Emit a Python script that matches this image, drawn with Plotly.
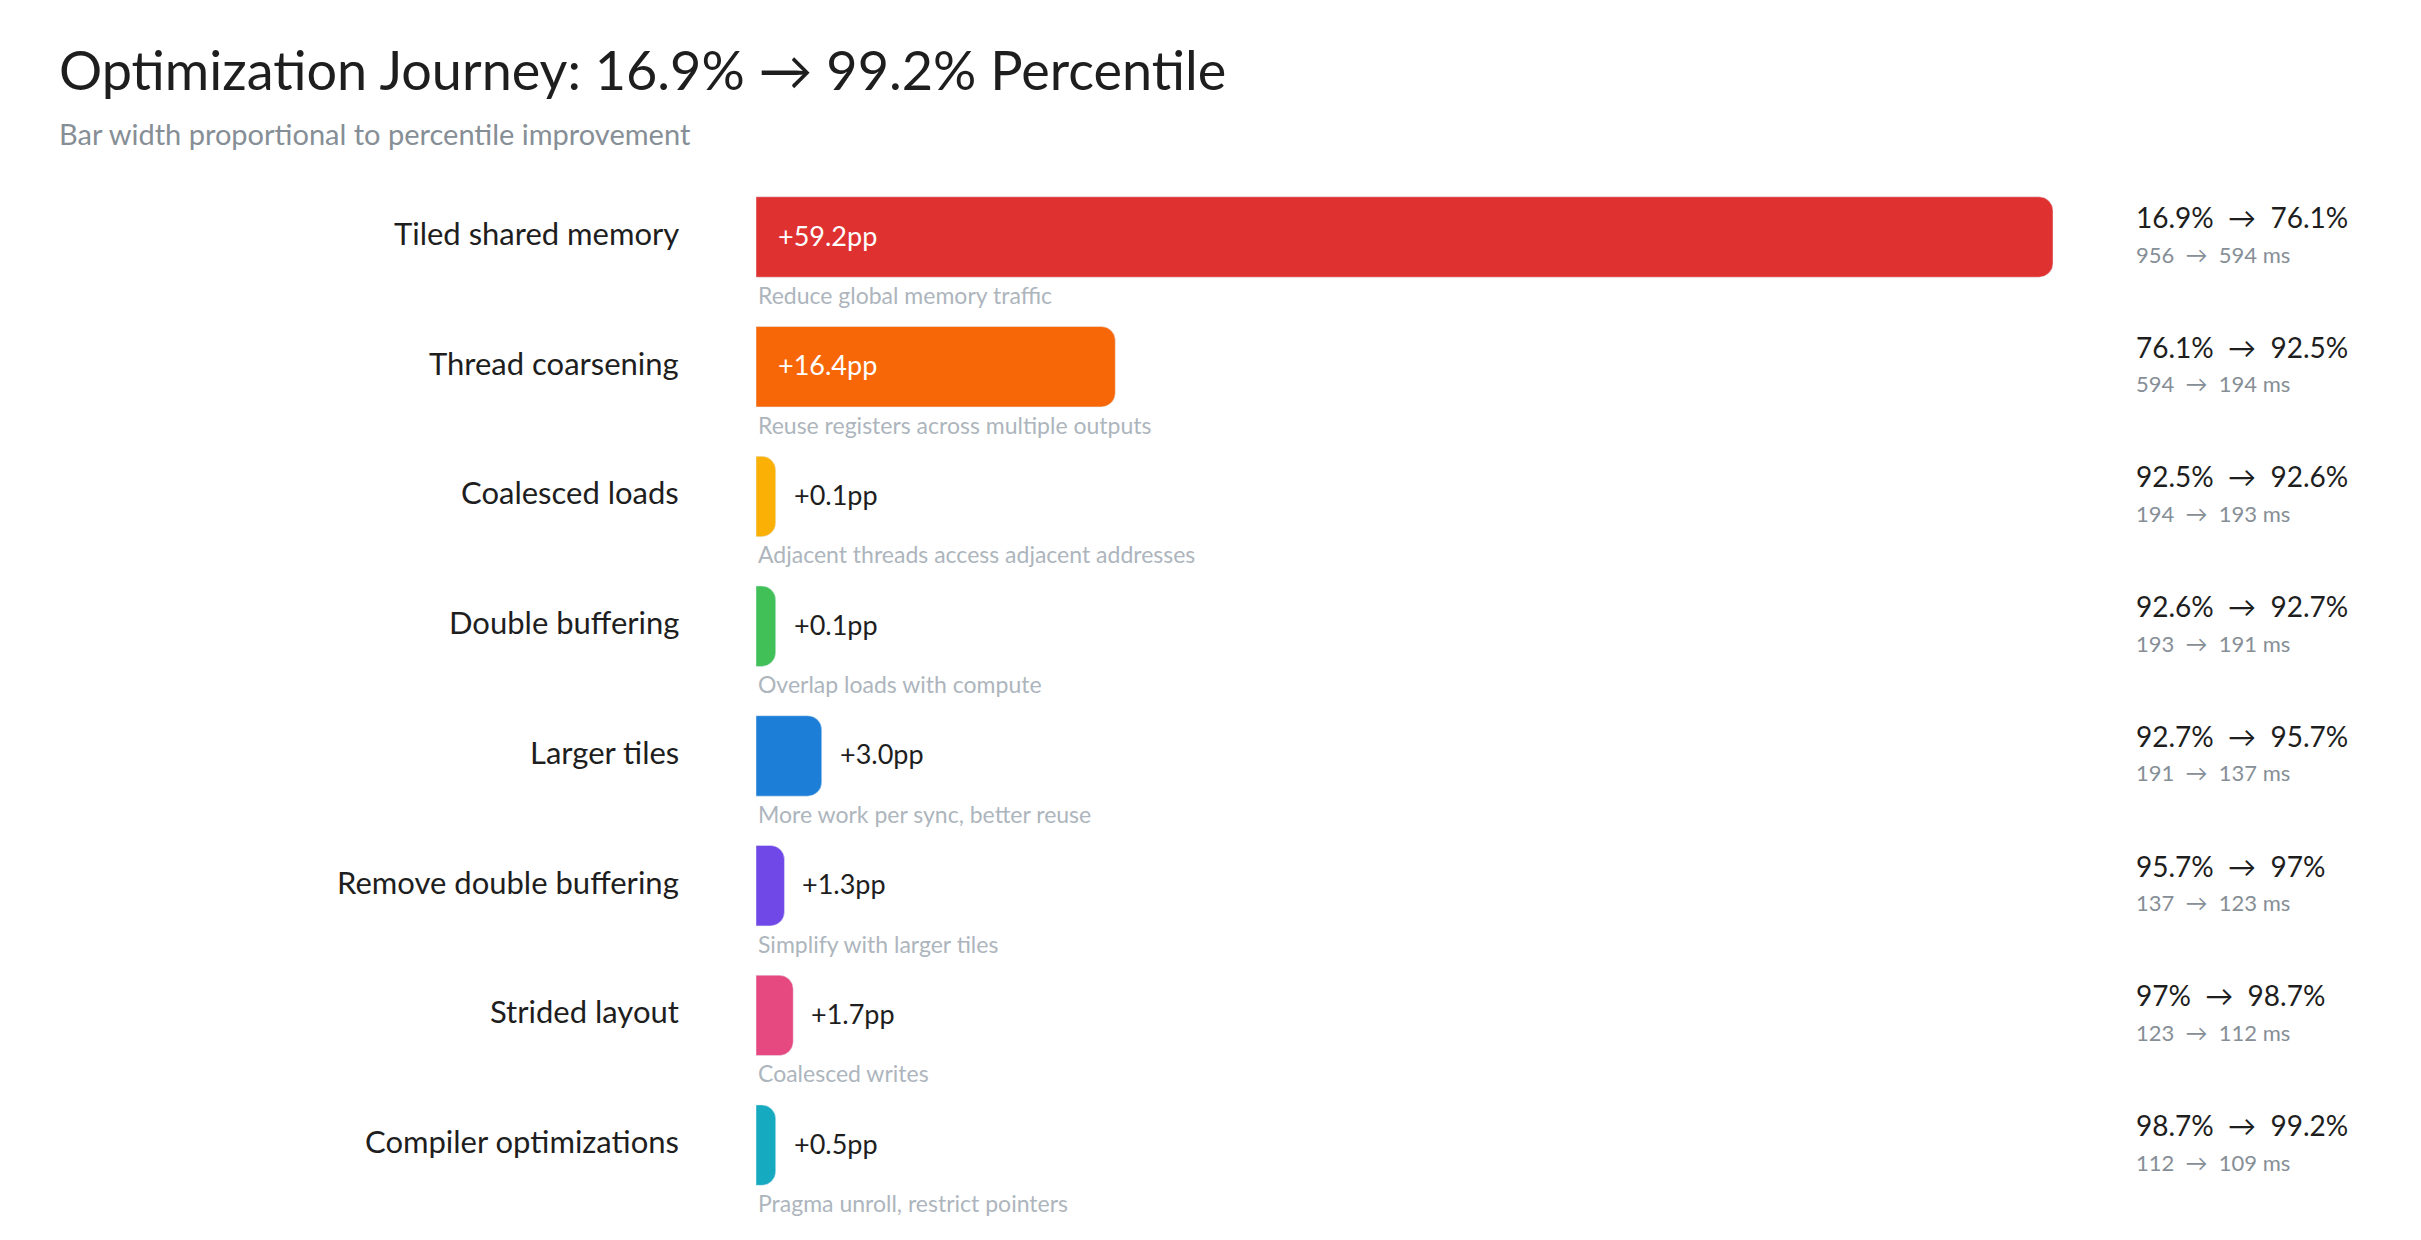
import plotly.graph_objects as go

steps = ["Tiled shared memory", "Thread coarsening", "Coalesced loads", "Double buffering",
         "Larger tiles", "Remove double buffering", "Strided layout", "Compiler optimizations"]
gains = [59.2, 16.4, 0.1, 0.1, 3.0, 1.3, 1.7, 0.5]
pct_from = ["16.9%", "76.1%", "92.5%", "92.6%", "92.7%", "95.7%", "97%", "98.7%"]
pct_to = ["76.1%", "92.5%", "92.6%", "92.7%", "95.7%", "97%", "98.7%", "99.2%"]
ms_from = [956, 594, 194, 193, 191, 137, 123, 112]
ms_to = [594, 194, 193, 191, 137, 123, 112, 109]
notes = ["Reduce global memory traffic", "Reuse registers across multiple outputs",
         "Adjacent threads access adjacent addresses", "Overlap loads with compute",
         "More work per sync, better reuse", "Simplify with larger tiles",
         "Coalesced writes", "Pragma unroll, restrict pointers"]
colors = ["#e03131", "#f76707", "#fab005", "#40c057", "#1c7ed6", "#7048e8", "#e64980", "#15aabf"]

W, H = 2421, 1240
FONT = "Lato"
# bars drawn with a small minimum visible width like the reference
shown = [max(g, 0.9) for g in gains]

X0, X1 = 748, 2045
RIGHT = 2126

fig = go.Figure(go.Bar(
    x=shown, y=steps, orientation="h", width=0.62,
    marker=dict(color=colors, cornerradius=14), hoverinfo="skip",
))

ann = []
for s, g, v, pf, pt, mf, mt, n in zip(steps, gains, shown, pct_from, pct_to, ms_from, ms_to, notes):
    ann.append(dict(x=673 / W, xref="paper", y=s, yref="y", text=s, showarrow=False,
                    xanchor="right", font=dict(size=31, color="#1e1e1e"), yshift=4))
    if g > 10:
        ann.append(dict(x=0, y=s, text=f"+{g}pp", showarrow=False, xanchor="left", xshift=20,
                        font=dict(size=27, color="white"), yshift=2))
    else:
        ann.append(dict(x=v, y=s, text=f"+{g}pp", showarrow=False, xanchor="left", xshift=16,
                        font=dict(size=27, color="#1e1e1e"), yshift=2))
    ann.append(dict(x=0, y=s, text=n, showarrow=False, xanchor="left", yshift=-58,
                    font=dict(size=23, color="#adb5bd")))
    ann.append(dict(x=RIGHT / W, xref="paper", y=s, yref="y", text=f"{pf}  →  {pt}", showarrow=False,
                    xanchor="left", yshift=20, font=dict(size=28, color="#1e1e1e")))
    ann.append(dict(x=RIGHT / W, xref="paper", y=s, yref="y", text=f"{mf}  →  {mt} ms", showarrow=False,
                    xanchor="left", yshift=-17, font=dict(size=22, color="#868e96")))

ann.append(dict(x=49 / W, y=1 - 61 / H, xref="paper", yref="paper", xanchor="left", yanchor="middle",
                text="Optimization Journey: 16.9% → 99.2% Percentile", showarrow=False,
                font=dict(size=54, color="#1e1e1e")))
ann.append(dict(x=49 / W, y=1 - 125 / H, xref="paper", yref="paper", xanchor="left", yanchor="middle",
                text="Bar width proportional to percentile improvement", showarrow=False,
                font=dict(size=29, color="#868e96")))

fig.update_layout(
    width=W, height=H, margin=dict(l=0, r=0, t=0, b=0),
    paper_bgcolor="white", plot_bgcolor="white", showlegend=False,
    font=dict(family=FONT), annotations=ann,
    xaxis=dict(domain=[X0 / W, X1 / W], range=[0, 59.2], visible=False),
    yaxis=dict(domain=[1 - 1202 / H, 1 - 155 / H], categoryorder="array", categoryarray=steps,
               autorange="reversed", visible=False),
)

fig.write_html("out.html")
